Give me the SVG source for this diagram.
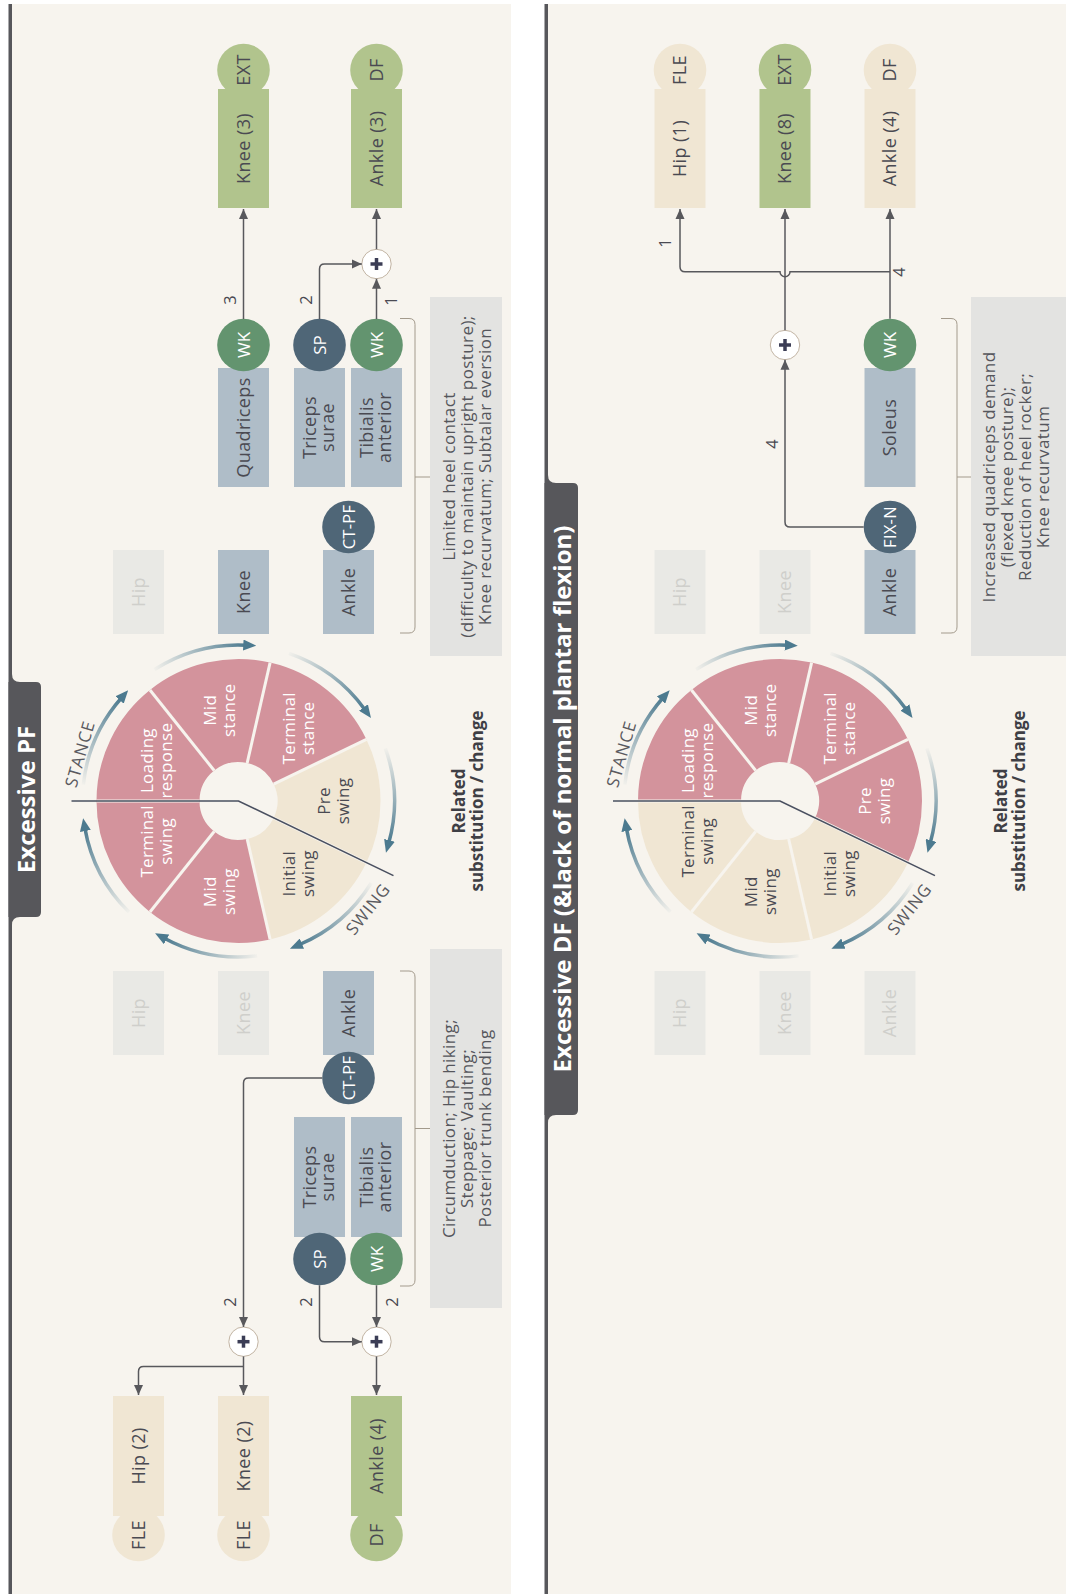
<svg xmlns="http://www.w3.org/2000/svg" xmlns:xlink="http://www.w3.org/1999/xlink" width="1066" height="1594" viewBox="0 0 1066 1594">
<style>
text{font-family:"Open Sans","Noto Sans","DejaVu Sans",sans-serif;text-anchor:middle}
.bg{fill:#f7f4ee}
.bar{fill:#57575b}
.jb{fill:#afbdc8}
.fb{fill:#e9e9e5}
.gr{fill:#b1c48d}
.cr{fill:#f0e6d3}
.cg{fill:#63946f}
.cd{fill:#4f6677}
.pk{fill:#d3939c}
.ck{fill:#f0e6d3}
.t{font-size:18px;fill:#4a4a52;letter-spacing:0.4px}
.tf{font-size:18px;fill:#cfcfcb;letter-spacing:0.4px}
.tw{font-size:17px;fill:#ffffff}
.tc{font-size:16.5px;fill:#ffffff;letter-spacing:0.3px}
.ws{font-size:17px;fill:#ffffff;letter-spacing:0.3px}
.wd{font-size:17px;fill:#4a4a52;letter-spacing:0.3px}
.lab{font-size:16.5px;fill:#4a4a52}
.arcl{font-size:17px;fill:#5a5a60;letter-spacing:1px}
.note{font-size:17px;fill:#55565c;letter-spacing:0.4px}
.rel{font-size:17px;font-weight:bold;fill:#3f3f45}
.title{font-size:24px;font-weight:bold;fill:#ffffff}
.gbox{fill:#e3e3e1}
.con{fill:none;stroke:#58585c;stroke-width:1.5}
.brk{fill:none;stroke:#a39a8c;stroke-width:1}
.plus{fill:#ffffff;stroke:#c2b4a3;stroke-width:1}
.pl{stroke:#3b3d55;stroke-width:3.5}
.sep{stroke:#f7f4ee;stroke-width:3}
.div{fill:none;stroke:#4a5060;stroke-width:1.6}
.warc{fill:none;stroke-width:3.5;marker-end:url(#wah)}
</style>
<defs>
<marker id="arr" markerUnits="userSpaceOnUse" viewBox="0 0 10 10" markerWidth="10" markerHeight="10" refX="10" refY="5" orient="auto">
<path d="M0,0.5 L10,5 L0,9.5 Z" fill="#58585c"/>
</marker>
<marker id="wah" markerUnits="userSpaceOnUse" viewBox="0 0 13 11" markerWidth="13" markerHeight="11" refX="3" refY="5.5" orient="auto">
<path d="M0,0 L13,5.5 L0,11 Z" fill="#4c7a8f"/>
</marker>
<linearGradient id="g0" gradientUnits="userSpaceOnUse" x1="-155.15" y1="-16.31" x2="-116.94" y2="-103.25"><stop offset="0" stop-color="#4c7a8f" stop-opacity="0.03"/><stop offset="1" stop-color="#4c7a8f"/></linearGradient>
<linearGradient id="g1" gradientUnits="userSpaceOnUse" x1="-84" y1="-131.45" x2="7.78" y2="-155.81"><stop offset="0" stop-color="#4c7a8f" stop-opacity="0.03"/><stop offset="1" stop-color="#4c7a8f"/></linearGradient>
<linearGradient id="g2" gradientUnits="userSpaceOnUse" x1="50.43" y1="-147.62" x2="126.66" y2="-91.06"><stop offset="0" stop-color="#4c7a8f" stop-opacity="0.03"/><stop offset="1" stop-color="#4c7a8f"/></linearGradient>
<linearGradient id="g3" gradientUnits="userSpaceOnUse" x1="146.86" y1="-52.62" x2="150.17" y2="42.24"><stop offset="0" stop-color="#4c7a8f" stop-opacity="0.03"/><stop offset="1" stop-color="#4c7a8f"/></linearGradient>
<linearGradient id="g4" gradientUnits="userSpaceOnUse" x1="132.71" y1="82" x2="60.6" y2="143.75"><stop offset="0" stop-color="#4c7a8f" stop-opacity="0.03"/><stop offset="1" stop-color="#4c7a8f"/></linearGradient>
<linearGradient id="g5" gradientUnits="userSpaceOnUse" x1="18.64" y1="154.88" x2="-74.6" y2="137.01"><stop offset="0" stop-color="#4c7a8f" stop-opacity="0.03"/><stop offset="1" stop-color="#4c7a8f"/></linearGradient>
<linearGradient id="g6" gradientUnits="userSpaceOnUse" x1="-109.52" y1="111.09" x2="-153.63" y2="27.09"><stop offset="0" stop-color="#4c7a8f" stop-opacity="0.03"/><stop offset="1" stop-color="#4c7a8f"/></linearGradient>
<path id="s0" d="M-142,0 A142,142 0 0 1 -88.54,-111.02 L-24.32,-30.49 A39,39 0 0 0 -39,0 Z"/>
<path id="s1" d="M-88.54,-111.02 A142,142 0 0 1 31.6,-138.44 L8.68,-38.02 A39,39 0 0 0 -24.32,-30.49 Z"/>
<path id="s2" d="M31.6,-138.44 A142,142 0 0 1 127.94,-61.61 L35.14,-16.92 A39,39 0 0 0 8.68,-38.02 Z"/>
<path id="s3" d="M127.94,-61.61 A142,142 0 0 1 127.94,61.61 L35.14,16.92 A39,39 0 0 0 35.14,-16.92 Z"/>
<path id="s4" d="M127.94,61.61 A142,142 0 0 1 31.6,138.44 L8.68,38.02 A39,39 0 0 0 35.14,16.92 Z"/>
<path id="s5" d="M31.6,138.44 A142,142 0 0 1 -88.54,111.02 L-24.32,30.49 A39,39 0 0 0 8.68,38.02 Z"/>
<path id="s6" d="M-88.54,111.02 A142,142 0 0 1 -142,0 L-39,0 A39,39 0 0 0 -24.32,30.49 Z"/>
<g id="wheelOverlay">
<line class="sep" x1="-39" y1="0" x2="-142" y2="0"/>
<line class="sep" x1="-24.32" y1="-30.49" x2="-88.54" y2="-111.02"/>
<line class="sep" x1="8.68" y1="-38.02" x2="31.6" y2="-138.44"/>
<line class="sep" x1="35.14" y1="-16.92" x2="127.94" y2="-61.61"/>
<line class="sep" x1="35.14" y1="16.92" x2="127.94" y2="61.61"/>
<line class="sep" x1="8.68" y1="38.02" x2="31.6" y2="138.44"/>
<line class="sep" x1="-24.32" y1="30.49" x2="-88.54" y2="111.02"/>
<path class="warc" stroke="url(#g0)" d="M-155.15,-16.31 A156,156 0 0 1 -116.94,-103.25"/>
<path class="warc" stroke="url(#g1)" d="M-84,-131.45 A156,156 0 0 1 7.78,-155.81"/>
<path class="warc" stroke="url(#g2)" d="M50.43,-147.62 A156,156 0 0 1 126.66,-91.06"/>
<path class="warc" stroke="url(#g3)" d="M146.86,-52.62 A156,156 0 0 1 150.17,42.24"/>
<path class="warc" stroke="url(#g4)" d="M132.71,82 A156,156 0 0 1 60.6,143.75"/>
<path class="warc" stroke="url(#g5)" d="M18.64,154.88 A156,156 0 0 1 -74.6,137.01"/>
<path class="warc" stroke="url(#g6)" d="M-109.52,111.09 A156,156 0 0 1 -153.63,27.09"/>
<path class="div" d="M-167,0 L0,0 L154.97,74.63"/>
<text class="arcl" transform="translate(-158.5,-47) rotate(-74)" y="6">STANCE</text>
<text class="arcl" transform="translate(129.5,108) rotate(-51.7)" y="6">SWING</text>
</g>
<g id="plusSign">
<circle class="plus" r="14.7"/>
<line class="pl" x1="-6" y1="0" x2="6" y2="0"/>
<line class="pl" x1="0" y1="-6" x2="0" y2="6"/>
</g>
</defs>

<rect width="1066" height="1594" fill="#ffffff"/>

<!-- ================= PANEL 1 : Excessive PF ================= -->
<g id="panel-pf">
<rect class="bg" x="12" y="4" width="499" height="1590"/>
<rect class="bar" x="8.5" y="4" width="3.5" height="1590"/>
<path class="bar" d="M8.5,682 H36 Q41,682 41,687 V912 Q41,917 36,917 H8.5 Z"/>
<path class="bar" d="M12,674 Q12,682 20,682 H12 Z"/>
<path class="bar" d="M12,925 Q12,917 20,917 H12 Z"/>
<text class="title" transform="translate(35,799.5) rotate(-90)">Excessive PF</text>
</g>

<g id="wheel-pf" transform="translate(238.5,801)">
<use href="#s0" class="pk"/><use href="#s1" class="pk"/><use href="#s2" class="pk"/><use href="#s3" class="ck"/><use href="#s4" class="ck"/><use href="#s5" class="pk"/><use href="#s6" class="pk"/>
<use href="#wheelOverlay"/>
<text class="ws" transform="translate(-83.8,-40.4) rotate(-90)"><tspan x="0" y="-2">Loading</tspan><tspan x="0" y="17">response</tspan></text>
<text class="ws" transform="translate(-20.7,-90.7) rotate(-90)"><tspan x="0" y="-2">Mid</tspan><tspan x="0" y="17">stance</tspan></text>
<text class="ws" transform="translate(58,-72.7) rotate(-90)"><tspan x="0" y="-2">Terminal</tspan><tspan x="0" y="17">stance</tspan></text>
<text class="wd" transform="translate(93,0) rotate(-90)"><tspan x="0" y="-2">Pre</tspan><tspan x="0" y="17">swing</tspan></text>
<text class="wd" transform="translate(58,72.7) rotate(-90)"><tspan x="0" y="-2">Initial</tspan><tspan x="0" y="17">swing</tspan></text>
<text class="ws" transform="translate(-20.7,90.7) rotate(-90)"><tspan x="0" y="-2">Mid</tspan><tspan x="0" y="17">swing</tspan></text>
<text class="ws" transform="translate(-83.8,40.4) rotate(-90)"><tspan x="0" y="-2">Terminal</tspan><tspan x="0" y="17">swing</tspan></text>
</g>

<!-- stance side, panel 1 -->
<g id="pf-st-hip"><rect class="fb" x="113" y="550" width="51" height="84"/><text class="tf" transform="translate(138.5,592) rotate(-90)" y="6">Hip</text></g>
<g id="pf-st-knee"><rect class="jb" x="218" y="550" width="51" height="84"/><text class="t" transform="translate(243.5,592) rotate(-90)" y="6">Knee</text></g>
<g id="pf-st-ankle"><rect class="jb" x="323" y="550" width="51" height="84"/><text class="t" transform="translate(348.5,592) rotate(-90)" y="6">Ankle</text>
<circle class="cd" cx="348.5" cy="527" r="26.3"/><text class="tc" transform="translate(348.5,527) rotate(-90)" y="6">CT-PF</text></g>
<g id="pf-st-quad"><rect class="jb" x="218" y="368" width="51" height="119"/><text class="t" transform="translate(243.5,427.5) rotate(-90)" y="6">Quadriceps</text>
<circle class="cg" cx="243.5" cy="345" r="26.3"/><text class="tw" transform="translate(243.5,345) rotate(-90)" y="6">WK</text></g>
<g id="pf-st-triceps"><rect class="jb" x="294" y="368" width="51" height="119"/><text class="t" transform="translate(319.5,427.5) rotate(-90)"><tspan x="0" y="-4">Triceps</tspan><tspan x="0" y="14">surae</tspan></text>
<circle class="cd" cx="319.5" cy="345" r="26.3"/><text class="tw" transform="translate(319.5,345) rotate(-90)" y="6">SP</text></g>
<g id="pf-st-tib"><rect class="jb" x="351" y="368" width="51" height="119"/><text class="t" transform="translate(376.5,427.5) rotate(-90)"><tspan x="0" y="-4">Tibialis</tspan><tspan x="0" y="14">anterior</tspan></text>
<circle class="cg" cx="376.5" cy="345" r="26.3"/><text class="tw" transform="translate(376.5,345) rotate(-90)" y="6">WK</text></g>
<g id="pf-res-knee3"><circle class="gr" cx="243.5" cy="70" r="26.3"/><rect class="gr" x="218" y="89" width="51" height="119"/>
<text class="t" transform="translate(243.5,70) rotate(-90)" y="6">EXT</text><text class="t" transform="translate(243.5,148.5) rotate(-90)" y="6">Knee (3)</text></g>
<g id="pf-res-ankle3"><circle class="gr" cx="376.5" cy="70" r="26.3"/><rect class="gr" x="351" y="89" width="51" height="119"/>
<text class="t" transform="translate(376.5,70) rotate(-90)" y="6">DF</text><text class="t" transform="translate(376.5,148.5) rotate(-90)" y="6">Ankle (3)</text></g>
<g id="pf-st-plus"><use href="#plusSign" x="376.5" y="264"/></g>
<g id="pf-st-note"><path class="brk" d="M400,318.5 H409 Q415,318.5 415,324.5 V627 Q415,633 409,633 H400 M415,477 H430"/>
<rect class="gbox" x="430" y="297" width="72" height="359"/>
<text class="note" transform="translate(466,476.5) rotate(-90)"><tspan x="0" y="-11">Limited heel contact</tspan><tspan x="0" y="7">(difficulty to maintain upright posture);</tspan><tspan x="0" y="25">Knee recurvatum; Subtalar eversion</tspan></text></g>

<!-- swing side, panel 1 -->
<g id="pf-sw-hip"><rect class="fb" x="113" y="971" width="51" height="84"/><text class="tf" transform="translate(138.5,1013) rotate(-90)" y="6">Hip</text></g>
<g id="pf-sw-knee"><rect class="fb" x="218" y="971" width="51" height="84"/><text class="tf" transform="translate(243.5,1013) rotate(-90)" y="6">Knee</text></g>
<g id="pf-sw-ankle"><rect class="jb" x="323" y="971" width="51" height="84"/><text class="t" transform="translate(348.5,1013) rotate(-90)" y="6">Ankle</text>
<circle class="cd" cx="348.5" cy="1078" r="26.3"/><text class="tc" transform="translate(348.5,1078) rotate(-90)" y="6">CT-PF</text></g>
<g id="pf-sw-triceps"><rect class="jb" x="294" y="1117" width="51" height="120"/><text class="t" transform="translate(319.5,1177) rotate(-90)"><tspan x="0" y="-4">Triceps</tspan><tspan x="0" y="14">surae</tspan></text>
<circle class="cd" cx="319.5" cy="1259" r="26.3"/><text class="tw" transform="translate(319.5,1259) rotate(-90)" y="6">SP</text></g>
<g id="pf-sw-tib"><rect class="jb" x="351" y="1117" width="51" height="120"/><text class="t" transform="translate(376.5,1177) rotate(-90)"><tspan x="0" y="-4">Tibialis</tspan><tspan x="0" y="14">anterior</tspan></text>
<circle class="cg" cx="376.5" cy="1259" r="26.3"/><text class="tw" transform="translate(376.5,1259) rotate(-90)" y="6">WK</text></g>
<g id="pf-res-hip2"><circle class="cr" cx="138.5" cy="1535" r="26.3"/><rect class="cr" x="113" y="1396" width="51" height="120"/>
<text class="t" transform="translate(138.5,1535) rotate(-90)" y="6">FLE</text><text class="t" transform="translate(138.5,1456) rotate(-90)" y="6">Hip (2)</text></g>
<g id="pf-res-knee2"><circle class="cr" cx="243.5" cy="1535" r="26.3"/><rect class="cr" x="218" y="1396" width="51" height="120"/>
<text class="t" transform="translate(243.5,1535) rotate(-90)" y="6">FLE</text><text class="t" transform="translate(243.5,1456) rotate(-90)" y="6">Knee (2)</text></g>
<g id="pf-res-ankle4"><circle class="gr" cx="376.5" cy="1535" r="26.3"/><rect class="gr" x="351" y="1396" width="51" height="120"/>
<text class="t" transform="translate(376.5,1535) rotate(-90)" y="6">DF</text><text class="t" transform="translate(376.5,1456) rotate(-90)" y="6">Ankle (4)</text></g>
<g id="pf-sw-plus1"><use href="#plusSign" x="243.5" y="1341.7"/></g>
<g id="pf-sw-plus2"><use href="#plusSign" x="376.5" y="1341.7"/></g>
<g id="pf-sw-note"><path class="brk" d="M400,971 H409 Q415,971 415,977 V1280 Q415,1286 409,1286 H400 M415,1128.5 H430"/>
<rect class="gbox" x="430" y="949" width="72" height="359"/>
<text class="note" transform="translate(466,1128.5) rotate(-90)"><tspan x="0" y="-11">Circumduction; Hip hiking;</tspan><tspan x="0" y="7">Steppage; Vaulting;</tspan><tspan x="0" y="25">Posterior trunk bending</tspan></text></g>
<text class="rel" transform="translate(474,801) rotate(-90)"><tspan x="0" y="-9">Related</tspan><tspan x="0" y="9">substitution / change</tspan></text>

<!-- ================= PANEL 2 : Excessive DF ================= -->
<g id="panel-df">
<rect class="bg" x="548" y="4" width="518" height="1590"/>
<rect class="bar" x="544.5" y="4" width="3.5" height="1590"/>
<path class="bar" d="M544.5,483 H573 Q578,483 578,488 V1110 Q578,1115 573,1115 H544.5 Z"/>
<path class="bar" d="M548,475 Q548,483 556,483 H548 Z"/>
<path class="bar" d="M548,1123 Q548,1115 556,1115 H548 Z"/>
<text class="title" transform="translate(571,799) rotate(-90)">Excessive DF (&amp;lack of normal plantar flexion)</text>
</g>

<g id="wheel-df" transform="translate(780,801)">
<use href="#s0" class="pk"/><use href="#s1" class="pk"/><use href="#s2" class="pk"/><use href="#s3" class="pk"/><use href="#s4" class="ck"/><use href="#s5" class="ck"/><use href="#s6" class="ck"/>
<use href="#wheelOverlay"/>
<text class="ws" transform="translate(-83.8,-40.4) rotate(-90)"><tspan x="0" y="-2">Loading</tspan><tspan x="0" y="17">response</tspan></text>
<text class="ws" transform="translate(-20.7,-90.7) rotate(-90)"><tspan x="0" y="-2">Mid</tspan><tspan x="0" y="17">stance</tspan></text>
<text class="ws" transform="translate(58,-72.7) rotate(-90)"><tspan x="0" y="-2">Terminal</tspan><tspan x="0" y="17">stance</tspan></text>
<text class="ws" transform="translate(93,0) rotate(-90)"><tspan x="0" y="-2">Pre</tspan><tspan x="0" y="17">swing</tspan></text>
<text class="wd" transform="translate(58,72.7) rotate(-90)"><tspan x="0" y="-2">Initial</tspan><tspan x="0" y="17">swing</tspan></text>
<text class="wd" transform="translate(-20.7,90.7) rotate(-90)"><tspan x="0" y="-2">Mid</tspan><tspan x="0" y="17">swing</tspan></text>
<text class="wd" transform="translate(-83.8,40.4) rotate(-90)"><tspan x="0" y="-2">Terminal</tspan><tspan x="0" y="17">swing</tspan></text>
</g>

<g id="df-st-hip"><rect class="fb" x="654.5" y="550" width="51" height="84"/><text class="tf" transform="translate(680,592) rotate(-90)" y="6">Hip</text></g>
<g id="df-st-knee"><rect class="fb" x="759.5" y="550" width="51" height="84"/><text class="tf" transform="translate(785,592) rotate(-90)" y="6">Knee</text></g>
<g id="df-st-ankle"><rect class="jb" x="864.5" y="550" width="51" height="84"/><text class="t" transform="translate(890,592) rotate(-90)" y="6">Ankle</text>
<circle class="cd" cx="890" cy="527" r="26.3"/><text class="tc" transform="translate(890,527) rotate(-90)" y="6">FIX-N</text></g>
<g id="df-st-soleus"><rect class="jb" x="864.5" y="368" width="51" height="119"/><text class="t" transform="translate(890,427.5) rotate(-90)" y="6">Soleus</text>
<circle class="cg" cx="890" cy="345" r="26.3"/><text class="tw" transform="translate(890,345) rotate(-90)" y="6">WK</text></g>
<g id="df-res-hip1"><circle class="cr" cx="680" cy="70" r="26.3"/><rect class="cr" x="654.5" y="89" width="51" height="119"/>
<text class="t" transform="translate(680,70) rotate(-90)" y="6">FLE</text><text class="t" transform="translate(680,148.5) rotate(-90)" y="6">Hip (1)</text></g>
<g id="df-res-knee8"><circle class="gr" cx="785" cy="70" r="26.3"/><rect class="gr" x="759.5" y="89" width="51" height="119"/>
<text class="t" transform="translate(785,70) rotate(-90)" y="6">EXT</text><text class="t" transform="translate(785,148.5) rotate(-90)" y="6">Knee (8)</text></g>
<g id="df-res-ankle4"><circle class="cr" cx="890" cy="70" r="26.3"/><rect class="cr" x="864.5" y="89" width="51" height="119"/>
<text class="t" transform="translate(890,70) rotate(-90)" y="6">DF</text><text class="t" transform="translate(890,148.5) rotate(-90)" y="6">Ankle (4)</text></g>
<g id="df-st-plus"><use href="#plusSign" x="785" y="345"/></g>
<g id="df-st-note"><path class="brk" d="M941,318.5 H951 Q957,318.5 957,324.5 V627 Q957,633 951,633 H941 M957,477 H971"/>
<rect class="gbox" x="971" y="297" width="95" height="359"/>
<text class="note" transform="translate(1016,477) rotate(-90)"><tspan x="0" y="-21">Increased quadriceps demand</tspan><tspan x="0" y="-3">(flexed knee posture);</tspan><tspan x="0" y="15">Reduction of heel rocker;</tspan><tspan x="0" y="33">Knee recurvatum</tspan></text></g>

<g id="df-sw-hip"><rect class="fb" x="654.5" y="971" width="51" height="84"/><text class="tf" transform="translate(680,1013) rotate(-90)" y="6">Hip</text></g>
<g id="df-sw-knee"><rect class="fb" x="759.5" y="971" width="51" height="84"/><text class="tf" transform="translate(785,1013) rotate(-90)" y="6">Knee</text></g>
<g id="df-sw-ankle"><rect class="fb" x="864.5" y="971" width="51" height="84"/><text class="tf" transform="translate(890,1013) rotate(-90)" y="6">Ankle</text></g>
<text class="rel" transform="translate(1015.5,801) rotate(-90)"><tspan x="0" y="-9">Related</tspan><tspan x="0" y="9">substitution / change</tspan></text>

<!-- ================= CONNECTORS ================= -->
<g id="connectors">
<path class="con" marker-end="url(#arr)" d="M243.5,319 V209"/>
<path class="con" marker-end="url(#arr)" d="M319.5,319 V269 Q319.5,264 324.5,264 H361.8"/>
<path class="con" marker-end="url(#arr)" d="M376.5,319 V278.7"/>
<path class="con" marker-end="url(#arr)" d="M376.5,249.3 V209"/>
<path class="con" marker-end="url(#arr)" d="M322.2,1078 H248.5 Q243.5,1078 243.5,1083 V1327"/>
<path class="con" marker-end="url(#arr)" d="M243.5,1356.4 V1395"/>
<path class="con" marker-end="url(#arr)" d="M243.5,1366.5 H143.5 Q138.5,1366.5 138.5,1371.5 V1395"/>
<path class="con" marker-end="url(#arr)" d="M319.5,1285.3 V1336.7 Q319.5,1341.7 324.5,1341.7 H361.8"/>
<path class="con" marker-end="url(#arr)" d="M376.5,1285.3 V1327"/>
<path class="con" marker-end="url(#arr)" d="M376.5,1356.4 V1395"/>
<path class="con" marker-end="url(#arr)" d="M863.7,527 H790 Q785,527 785,522 V359.7"/>
<path class="con" marker-end="url(#arr)" d="M785,330.3 V209"/>
<path class="con" marker-end="url(#arr)" d="M890,318.7 V209"/>
<path class="con" marker-end="url(#arr)" d="M890,271.7 H790 A5,5 0 0 1 780,271.7 H685 Q680,271.7 680,266.7 V209"/>
<text class="lab" transform="translate(230,300) rotate(-90)" y="6">3</text>
<text class="lab" transform="translate(306,300) rotate(-90)" y="6">2</text>
<text class="lab" transform="translate(391,301) rotate(-90)" y="6">1</text>
<text class="lab" transform="translate(230,1302) rotate(-90)" y="6">2</text>
<text class="lab" transform="translate(306,1302) rotate(-90)" y="6">2</text>
<text class="lab" transform="translate(392,1302) rotate(-90)" y="6">2</text>
<text class="lab" transform="translate(772,444) rotate(-90)" y="6">4</text>
<text class="lab" transform="translate(665,243) rotate(-90)" y="6">1</text>
<text class="lab" transform="translate(899,272) rotate(-90)" y="6">4</text>
</g>
</svg>
